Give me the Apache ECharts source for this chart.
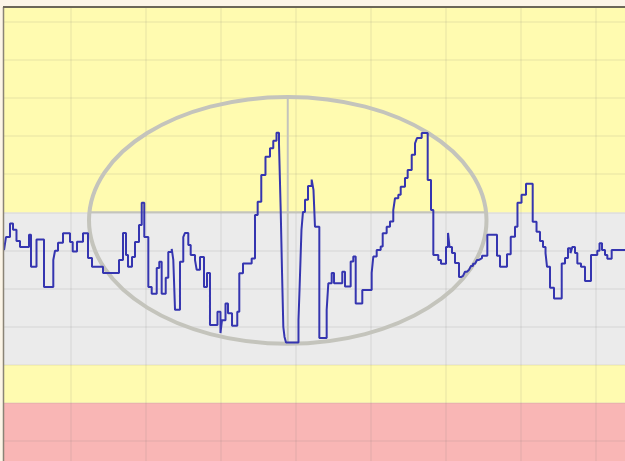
<!DOCTYPE html>
<html><head><meta charset="utf-8">
<script src="https://cdn.jsdelivr.net/npm/echarts@6/dist/echarts.min.js"></script>
<style>html,body{margin:0;padding:0;background:#fcf5e7;}#c{width:625px;height:461px;}</style>
</head><body><div id="c"></div>
<script>
// time samples (x units, one vertical grid line every 10)
const times = [1.07,1.33,1.87,2.27,2.73,3.2,4.4,4.67,5.4,6.4,
7.64,7.87,8.27,8.93,9.87,10.23,10.8,11.6,12.27,12.8,
14.27,16.4,16.93,17.33,17.6,18.13,18.53,19.07,19.43,19.77,
20.31,20.76,21.43,21.77,22.09,22.63,22.97,23.43,23.64,23.87,
24.53,24.97,25.2,25.64,25.96,26.53,26.76,27.2,27.73,28.13,
28.53,29.53,29.93,30.13,30.6,30.93,31.47,32.17,32.44,32.93,
34.09,34.53,34.89,35.37,35.93,36.53,36.97,37.4,37.73,37.96,
38.13,38.31,38.47,38.67,40.33,40.47,40.6,40.73,40.93,41.2,
41.6,42.09,42.33,42.53,43.11,44.09,44.31,44.76,45.07,46.17,
46.53,47.29,47.64,47.96,48.84,50.09,50.31,50.76,51.29,51.56,
52.09,52.53,52.97,53.2,53.64,53.96,54.53,54.89,55.43,55.87,
56.13,56.76,57.56,58.0,58.31,58.97,59.33,60.0,60.27,60.47,
60.8,61.2,61.73,62.0,62.27,62.53,62.8,63.07,63.33,63.6,
63.87,64.13,64.4,64.8,65.51,66.8,67.2,68.13,68.63,69.2,
69.53,70.07,70.67,71.56,72.07,72.53,72.93,73.27,73.47,73.87,
74.4,75.43,75.87,76.27,76.6,76.84,77.2,77.51,78.0,78.53,
79.33,80.17,80.47,80.8,81.2,81.51,82.09,84.0];
// level at each sample (y units, one horizontal grid line every 10)
const levels = [60.1,63.5,67.1,65.4,62.5,60.9,64.1,55.7,62.9,50.4,
57.5,59.9,62.0,64.5,62.2,59.7,62.3,64.5,58.0,55.7,
54.1,57.5,64.6,58.8,55.7,58.3,62.2,66.7,72.5,63.5,
50.4,48.6,55.4,57.0,48.6,52.8,59.6,60.4,57.5,44.4,
57.0,63.5,64.6,61.4,58.8,57.5,54.9,58.3,50.4,54.1,
40.4,43.9,38.3,41.7,46.1,43.5,40.2,43.9,54.0,56.6,
57.9,69.3,72.8,79.8,84.6,86.8,88.8,90.9,88.1,70.6,
54.9,39.9,37.3,35.8,41.7,49.6,57.5,65.4,70.1,73.3,
76.9,78.6,75.9,66.2,37.0,44.4,51.4,54.1,51.4,54.4,
50.5,57.1,58.4,46.1,49.6,54.1,58.4,60.1,61.0,64.5,
66.2,67.6,70.6,73.7,74.6,76.7,79.0,81.1,85.1,88.1,
89.5,90.8,78.5,70.6,58.8,57.5,56.5,60.9,64.6,60.9,
59.3,56.7,53.0,53.3,53.8,54.4,54.9,55.4,55.9,56.5,
57.0,57.5,58.0,58.6,64.1,58.6,55.7,59.0,63.6,66.2,
72.5,74.6,77.5,67.5,64.9,62.5,60.9,59.3,55.7,50.2,
47.4,56.6,58.0,60.6,59.3,60.9,59.3,56.6,55.7,52.0,
58.8,59.9,61.9,60.1,58.8,57.8,60.1,60.1];
// zone limits (y units), bottom to top
const zoneLimits = [0, 20, 30, 70, 123.9];
// highlighted region: centre and radii in data units, crosshair level
const ellipseCenter = [38.9, 67.9];
const ellipseRadius = [26.5, 32.4];
const crossLevel = 70;

const zoneColors = ['#f9b6b5', '#fffbb0', '#ebebeb', '#fffbb0'];
const chart = echarts.init(document.getElementById('c'), null, {renderer: 'canvas'});
const bands = [];
for (let i = 0; i < zoneColors.length; i++) {
  bands.push([{yAxis: zoneLimits[i], itemStyle: {color: zoneColors[i]}}, {yAxis: zoneLimits[i + 1]}]);
}
const seriesData = times.map((t, i) => [t, levels[i]]);
const gridLine = {show: true, lineStyle: {color: 'rgba(120,120,105,0.11)', width: 1.5}};
chart.setOption({
  animation: false,
  backgroundColor: '#fcf5e7',
  grid: {left: -4, right: -1, top: 7, bottom: -18, containLabel: false, outerBoundsMode: 'none'},
  xAxis: {type: 'value', min: 0, max: 84, interval: 10, z: 2,
    axisLine: {show: false}, axisTick: {show: false}, axisLabel: {show: false}, splitLine: gridLine},
  yAxis: {type: 'value', min: 0, max: zoneLimits[zoneLimits.length - 1], interval: 10, z: 2,
    axisLine: {show: false}, axisTick: {show: false}, axisLabel: {show: false}, splitLine: gridLine},
  series: [
    {type: 'line', z: 0, silent: true, data: [],
     markArea: {silent: true, z: 0, data: bands}},
    {type: 'line', z: 4, step: 'end', data: seriesData, showSymbol: false, symbol: 'none',
     lineStyle: {color: '#3535b0', width: 2}}
  ]
});
const toPx = p => chart.convertToPixel({gridIndex: 0}, p);
const c = toPx(ellipseCenter);
const e = toPx([ellipseCenter[0] + ellipseRadius[0], ellipseCenter[1] + ellipseRadius[1]]);
const rx = e[0] - c[0], ry = c[1] - e[1];
const hy = toPx([ellipseCenter[0], crossLevel])[1];
const dyr = (hy - c[1]) / ry;
const hx = rx * Math.sqrt(1 - dyr * dyr);
const ringStyle = {stroke: '#c4c4bc', lineWidth: 2, fill: null};
chart.setOption({
  graphic: [
    {type: 'line', z: 3, silent: true, shape: {x1: c[0], y1: c[1] - ry, x2: c[0], y2: c[1] + ry}, style: ringStyle},
    {type: 'line', z: 3, silent: true, shape: {x1: c[0] - hx, y1: hy, x2: c[0] + hx, y2: hy}, style: ringStyle},
    {type: 'ellipse', z: 3, silent: true, shape: {cx: c[0], cy: c[1], rx: rx, ry: ry},
     style: {stroke: '#c4c4bc', lineWidth: 4, fill: null}},
    {type: 'rect', z: 10, silent: true, shape: {x: 0, y: 0, width: 3, height: 461}, style: {fill: '#fcf5e7'}},
    {type: 'line', z: 11, silent: true, shape: {x1: 3.5, y1: 7, x2: 3.5, y2: 461}, style: {stroke: '#8a8476', lineWidth: 1.5}},
    {type: 'line', z: 11, silent: true, shape: {x1: 3, y1: 7, x2: 625, y2: 7}, style: {stroke: '#6c6758', lineWidth: 2}}
  ]
});
</script></body></html>
